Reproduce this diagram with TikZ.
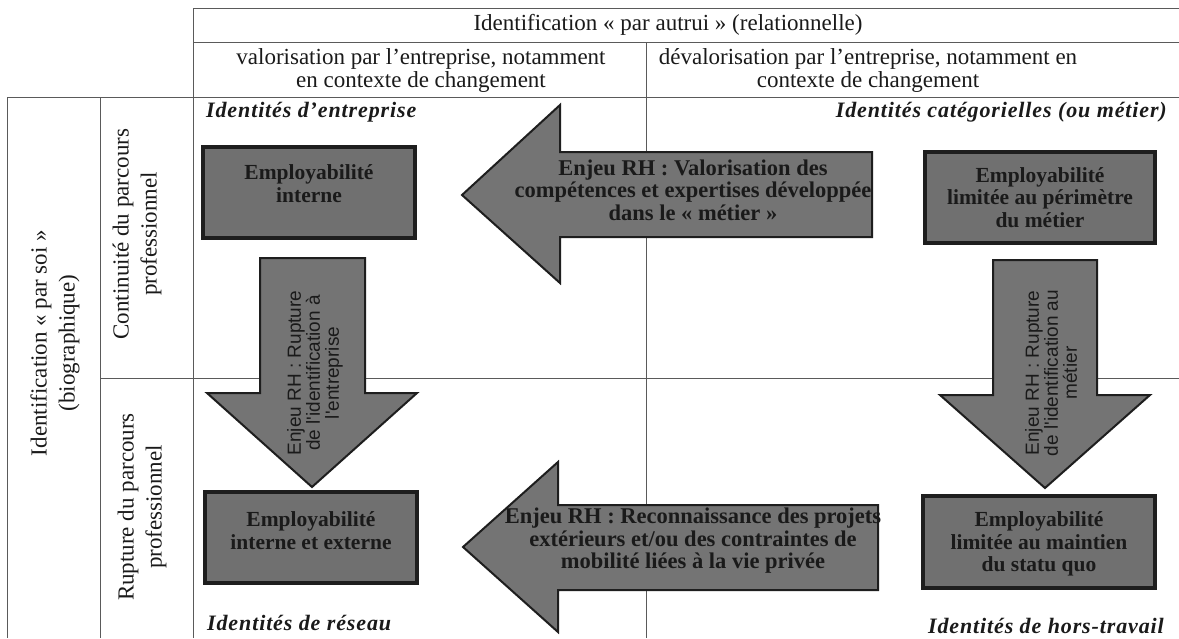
\documentclass[tikz,border=0pt]{standalone}
\usepackage{fontspec}
\setmainfont{Liberation Serif}
\newfontfamily\sansf{Liberation Sans}
\newfontfamily\idfont[LetterSpace=4]{Liberation Serif}
\definecolor{linegray}{HTML}{5A5A5A}
\definecolor{boxborder}{HTML}{1E1E1E}
\definecolor{boxfill}{HTML}{707070}
\definecolor{arrowfill}{HTML}{747474}
\definecolor{txt}{HTML}{1A1A1A}
\begin{document}
\begin{tikzpicture}[x=1pt,y=-1pt,
  tline/.style={draw=linegray, line width=1pt},
  ebox/.style={draw=boxborder, line width=3.5pt, fill=boxfill, inner sep=0pt},
  barrow/.style={draw=boxborder, line width=2pt, fill=arrowfill, line join=miter},
  hdr/.style={font=\fontsize{23}{23}\selectfont, text=txt, align=center, inner sep=0pt},
  idlab/.style={font=\idfont\bfseries\itshape\fontsize{22}{22}\selectfont, text=txt, inner sep=0pt},
  sidelab/.style={font=\fontsize{23}{28}\selectfont, text=txt, align=center, inner sep=0pt, rotate=90},
  boxtxt/.style={font=\bfseries\fontsize{21.5}{22.5}\selectfont, text=txt, align=center, inner sep=0pt},
  arrtxt/.style={font=\bfseries\fontsize{22.5}{22.5}\selectfont, text=txt, align=center, inner sep=0pt},
  vtxt/.style={font=\sansf\fontsize{19}{19}\selectfont, text=txt, align=center, inner sep=0pt, rotate=90}
]
\useasboundingbox (0,0) rectangle (1179,638);
\fill[white] (0,0) rectangle (1179,638);

% table lines
\draw[tline] (193,8) -- (1179,8);
\draw[tline] (193,42) -- (1179,42);
\draw[tline] (7,97) -- (1179,97);
\draw[tline] (100,378) -- (1179,378);
\draw[tline] (7,97) -- (7,638);
\draw[tline] (100,97) -- (100,638);
\draw[tline] (193,8) -- (193,638);
\draw[tline] (646,42) -- (646,638);

% header texts
\node[hdr] (h1) at (668,25) {Identification « par autrui » (relationnelle)};
\node[hdr] (h2l) at (421,70) {valorisation par l’entreprise, notamment\\en contexte de changement};
\node[hdr] (h2r) at (868,70) {dévalorisation par l’entreprise, notamment en\\contexte de changement};

% side labels
\node[sidelab] (s1) at (55,343) {Identification « par soi »\\(biographique)};
\node[sidelab] (s2) at (137,234) {Continuité du parcours\\professionnel};
\node[sidelab] (s3) at (142,507) {Rupture du parcours\\professionnel};

% identity labels
\node[idlab, anchor=west] (ie) at (206,112) {Identités d’entreprise};
\node[idlab, anchor=east] (ic) at (1167,112) {Identités catégorielles (ou métier)};
\node[idlab, anchor=west] (ir) at (207,623) {Identités de réseau};
\node[idlab, anchor=east] (ih) at (1164,626) {Identités de hors-travail};

% block arrows
\draw[barrow] (872,152) -- (560,152) -- (560,105) -- (462,195) -- (560,283) -- (560,237) -- (872,237) -- cycle;
\draw[barrow] (878,505) -- (558,505) -- (558,462) -- (463,547) -- (558,632) -- (558,590) -- (878,590) -- cycle;
\draw[barrow] (260,258) -- (365,258) -- (365,393) -- (417,393) -- (312,487) -- (207,393) -- (260,393) -- cycle;
\draw[barrow] (993,260) -- (1097,260) -- (1097,395) -- (1150,395) -- (1045,488) -- (940,395) -- (993,395) -- cycle;

\node[arrtxt] (a1) at (693,190) {Enjeu RH : Valorisation des\\compétences et expertises développée\\dans le « métier »};
\node[arrtxt] (a2) at (693,541) {Enjeu RH : Reconnaissance des projets\\extérieurs et/ou des contraintes de\\mobilité liées à la vie privée};
\node[vtxt] (v1) at (315,373) {Enjeu RH : Rupture\\de l'identification à\\l'entreprise};
\node[vtxt] (v2) at (1051,373) {Enjeu RH : Rupture\\de l'identification au\\métier};

% boxes
\node[ebox, minimum width=212pt, minimum height=91pt] (b1) at (309,192.5) {};
\node[ebox, minimum width=230pt, minimum height=91pt] (b2) at (1040,197.5) {};
\node[ebox, minimum width=212pt, minimum height=91pt] (b3) at (311,537.5) {};
\node[ebox, minimum width=232pt, minimum height=92pt] (b4) at (1039,542) {};

\node[boxtxt] (t1) at (b1.center) [yshift=9pt] {Employabilité\\interne};
\node[boxtxt] (t2) at (b2.center) {Employabilité\\limitée au périmètre\\du métier};
\node[boxtxt] (t3) at (b3.center) [yshift=7pt] {Employabilité\\interne et externe};
\node[boxtxt] (t4) at (b4.center) [yshift=-2pt] {Employabilité\\limitée au maintien\\du statu quo};
\end{tikzpicture}
\end{document}
